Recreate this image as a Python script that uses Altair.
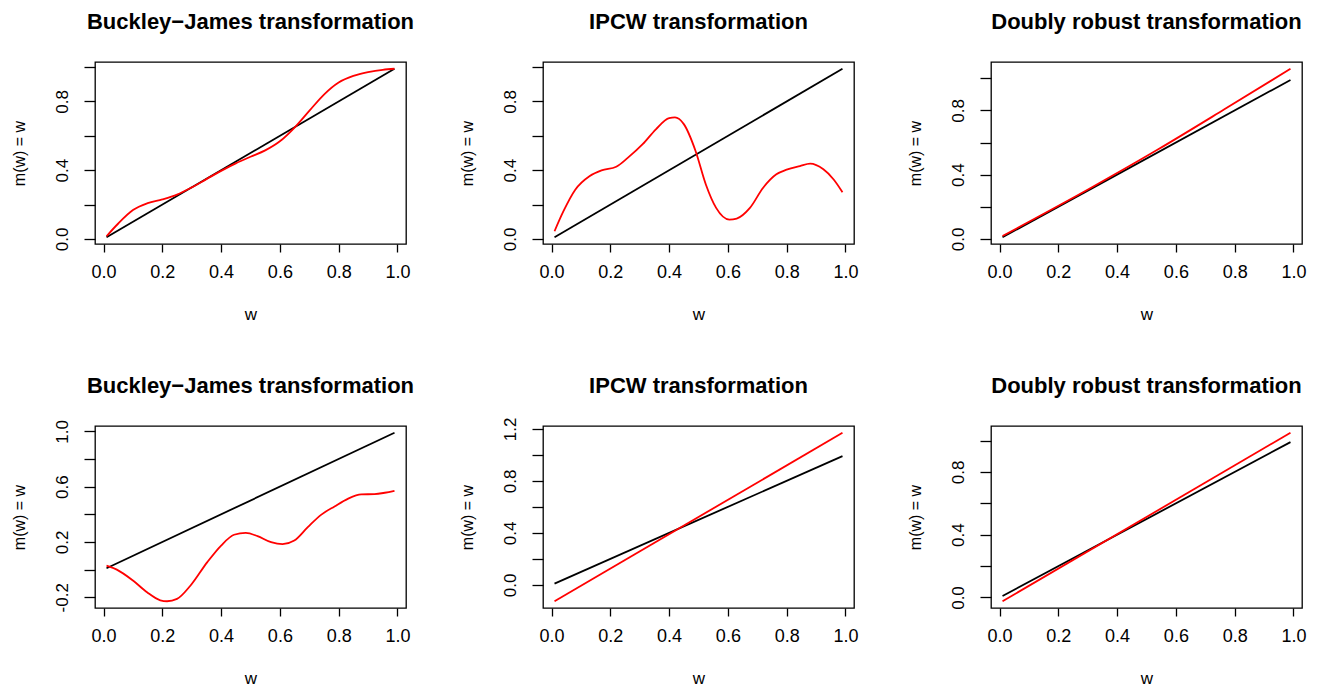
import altair as alt
import pandas as pd

# ---------------- data ----------------
TITLES = [
    "Buckley\u2212James transformation",
    "IPCW transformation",
    "Doubly robust transformation",
    "Buckley\u2212James transformation",
    "IPCW transformation",
    "Doubly robust transformation",
]

# identity reference line m(w) = w
black_w = [0.01, 0.99]
black_v = [0.01, 0.99]

# panel 1: Buckley-James (top)
p1_w = [0.01, 0.05, 0.10, 0.15, 0.20, 0.25, 0.30, 0.35, 0.40, 0.45, 0.50,
        0.55, 0.60, 0.65, 0.70, 0.75, 0.80, 0.85, 0.90, 0.95, 0.99]
p1_v = [0.016, 0.09, 0.168, 0.208, 0.23, 0.258, 0.30, 0.348, 0.396, 0.44, 0.478,
        0.515, 0.568, 0.648, 0.745, 0.84, 0.91, 0.948, 0.97, 0.984, 0.99]

# panel 2: IPCW (top)
p2_w = [0.01, 0.04, 0.08, 0.13, 0.17, 0.22, 0.26, 0.31, 0.355, 0.40, 0.42, 0.45,
        0.49, 0.525, 0.56, 0.605, 0.63, 0.675, 0.72, 0.765, 0.80, 0.845, 0.88,
        0.925, 0.96, 0.99]
p2_v = [0.045, 0.16, 0.285, 0.366, 0.399, 0.42, 0.473, 0.551, 0.638, 0.703, 0.707,
        0.668, 0.512, 0.317, 0.181, 0.113, 0.119, 0.181, 0.298, 0.376, 0.403,
        0.424, 0.438, 0.405, 0.346, 0.272]

# panel 3: Doubly robust (top)
p3_w = [0.01, 0.31, 0.54, 0.765, 0.99]
p3_v = [0.018, 0.317, 0.558, 0.807, 1.06]

# panel 4: Buckley-James (bottom)
p4_w = [0.01, 0.045, 0.10, 0.148, 0.193, 0.216, 0.25, 0.296, 0.353, 0.40, 0.444,
        0.484, 0.524, 0.57, 0.609, 0.649, 0.695, 0.74, 0.786, 0.831, 0.877,
        0.922, 0.957, 0.99]
p4_v = [0.029, 0.0, -0.079, -0.164, -0.222, -0.229, -0.212, -0.115, 0.054, 0.174,
        0.252, 0.266, 0.242, 0.198, 0.184, 0.21, 0.307, 0.396, 0.457, 0.512,
        0.544, 0.546, 0.556, 0.57]

# panel 5: IPCW (bottom)
p5_w = [0.01, 0.99]
p5_v = [-0.126, 1.17]

# panel 6: Doubly robust (bottom)
p6_w = [0.01, 0.99]
p6_v = [-0.024, 1.05]

RED_W = [p1_w, p2_w, p3_w, p4_w, p5_w, p6_w]
RED_V = [p1_v, p2_v, p3_v, p4_v, p5_v, p6_v]

X_TICKS = [0.0, 0.2, 0.4, 0.6, 0.8, 1.0]
Y_TICKS = [
    [0.0, 0.2, 0.4, 0.6, 0.8, 1.0],
    [0.0, 0.2, 0.4, 0.6, 0.8, 1.0],
    [0.0, 0.2, 0.4, 0.6, 0.8, 1.0],
    [-0.2, 0.0, 0.2, 0.4, 0.6, 0.8, 1.0],
    [0.0, 0.2, 0.4, 0.6, 0.8, 1.0, 1.2],
    [0.0, 0.2, 0.4, 0.6, 0.8, 1.0],
]
Y_LABELLED = [
    [0.0, 0.4, 0.8],
    [0.0, 0.4, 0.8],
    [0.0, 0.4, 0.8],
    [-0.2, 0.2, 0.6, 1.0],
    [0.0, 0.4, 0.8, 1.2],
    [0.0, 0.4, 0.8],
]

# ---------------- styling ----------------
FONT = "Liberation Sans"
PW, PH = 311, 182


def ext(lo, hi):
    d = (hi - lo) * 0.04
    return [lo - d, hi + d]


def panel(i):
    red = pd.DataFrame({"w": RED_W[i], "v": RED_V[i]})
    blk = pd.DataFrame({"w": black_w, "v": black_v})
    ttl = pd.DataFrame({"t": [TITLES[i]]})
    allv = RED_V[i] + black_v
    allw = RED_W[i] + black_w
    xdom = ext(min(allw), max(allw))
    ydom = ext(min(allv), max(allv))
    keep = ",".join(str(int(round(t * 10))) for t in Y_LABELLED[i])
    label_expr = (
        "indexof([" + keep + "], round(datum.value*10)) >= 0 ? "
        "replace(format(datum.value, '.1f'), '\u2212', '-') : ''"
    )
    x = alt.X(
        "w:Q",
        scale=alt.Scale(domain=xdom, nice=False, zero=False),
        axis=alt.Axis(
            values=X_TICKS, format=".1f", title="w",
            titleX=PW / 2, titleY=75, titleBaseline="alphabetic",
            titleAlign="center",
        ),
    )
    y = alt.Y(
        "v:Q",
        scale=alt.Scale(domain=ydom, nice=False, zero=False),
        axis=alt.Axis(
            values=Y_TICKS[i], labelExpr=label_expr, title="m(w) = w",
            titleX=-76, titleY=PH / 2, titleAngle=270,
            titleBaseline="middle", titleAlign="center",
        ),
    )
    l_black = alt.Chart(blk).mark_line(color="black", strokeWidth=1.8).encode(x=x, y=y)
    l_red = alt.Chart(red).mark_line(
        color="#ff0000", strokeWidth=1.8, interpolate="monotone"
    ).encode(x=x, y=y)
    title = alt.Chart(ttl).mark_text(
        font=FONT, fontSize=22, fontWeight="bold", color="black",
        align="center", baseline="alphabetic",
    ).encode(text="t:N", x=alt.value(PW / 2), y=alt.value(-33))
    return alt.layer(l_black, l_red, title).properties(width=PW, height=PH)


chart = (
    alt.concat(*[panel(i) for i in range(6)], columns=3,
               spacing={"row": 182, "column": 137}, bounds="flush")
    .properties(padding={"left": 2, "top": 2, "right": 5, "bottom": 0},
                background="white")
    .configure_view(stroke="black", strokeWidth=1.3)
    .configure_axis(
        grid=False, domain=False, tickColor="black", tickWidth=1.3,
        labelFont=FONT, titleFont=FONT, labelColor="black", titleColor="black",
        labelFontSize=17, titleFontSize=16, titleFontWeight="normal",
    )
    .configure_axisX(tickSize=8, labelPadding=11, labelFontSize=18, titleFontSize=17)
    .configure_axisY(tickSize=11, labelPadding=13, labelAngle=270,
                     labelAlign="center", labelBaseline="bottom")
)

chart.save("out.html", embed_options={"renderer": "svg", "actions": False})
